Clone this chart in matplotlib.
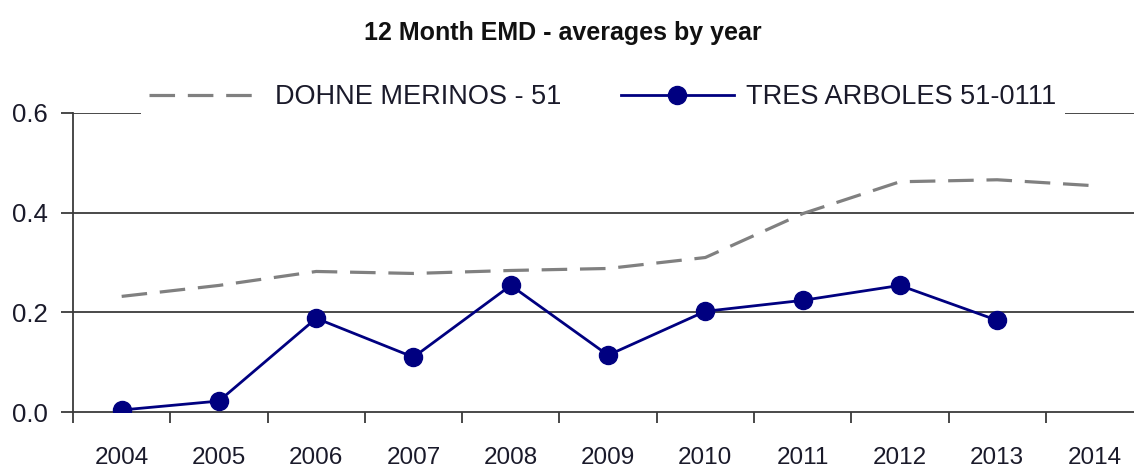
import numpy as np
import matplotlib
matplotlib.use('Agg')
import matplotlib.pyplot as plt

years = ['2004', '2005', '2006', '2007', '2008', '2009', '2010', '2011', '2012', '2013', '2014']
dohne = [0.232, 0.254, 0.282, 0.278, 0.284, 0.288, 0.310, 0.398, 0.462, 0.466, 0.454]
tres = [0.004, 0.022, 0.188, 0.110, 0.254, 0.114, 0.202, 0.224, 0.254, 0.184]

plt.rcParams['font.family'] = ['Liberation Sans', 'DejaVu Sans']

fig = plt.figure(figsize=(11.34, 4.70), dpi=100)
ax = fig.add_axes([0.0644, 0.1234, 0.9436, 0.6362])

x = np.arange(len(years))
ax.plot(x, dohne, color='#808080', lw=2.3, linestyle=(0, (8, 4)),
        label='DOHNE MERINOS - 51', zorder=3)
ax.plot(x[:len(tres)], tres, color='#000080', lw=2.0, marker='o', ms=13,
        label='TRES ARBOLES 51-0111', zorder=4)

ax.set_xlim(-0.5, len(years) - 0.5)
ax.set_ylim(0, 0.6)
ax.set_yticks([0.0, 0.2, 0.4, 0.6])
ax.set_yticklabels(['0.0', '0.2', '0.4', '0.6'])
for yv in [0.2, 0.4, 0.6]:
    ax.axhline(yv, color='#3a3a3a', lw=1.3, zorder=1)

# category ticks sit between the years
ax.set_xticks(np.arange(len(years) + 1) - 0.5)
ax.set_xticklabels([])
ax.set_xticks(x, minor=True)
ax.set_xticklabels(years, minor=True)
ax.tick_params(axis='x', which='major', length=8, width=1.3, color='#3a3a3a', direction='out')
ax.tick_params(axis='x', which='minor', length=0, pad=25, labelsize=17.5, labelcolor='#1a1a2a')
ax.tick_params(axis='y', length=9, width=1.3, color='#3a3a3a', direction='out', pad=9,
               labelsize=18.5, labelcolor='#1a1a2a')

for side in ['top', 'right']:
    ax.spines[side].set_visible(False)
for side in ['left', 'bottom']:
    ax.spines[side].set_color('#3a3a3a')
    ax.spines[side].set_linewidth(1.3)

leg = ax.legend(loc='center', bbox_to_anchor=(0.495, 1.053), ncol=2, frameon=True,
                fontsize=19.5, handlelength=4.2, handletextpad=0.45, columnspacing=2.2,
                borderpad=0.3, fancybox=False)
leg.get_frame().set_facecolor('white')
leg.get_frame().set_edgecolor('none')
leg.get_frame().set_alpha(1.0)
leg.set_zorder(10)
for t in leg.get_texts():
    t.set_color('#1a1a2a')

fig.text(0.496, 0.93, '12 Month EMD - averages by year', ha='center', va='center',
         fontsize=18, fontweight='bold', color='#111111')

fig.savefig('out.png', dpi=100)
